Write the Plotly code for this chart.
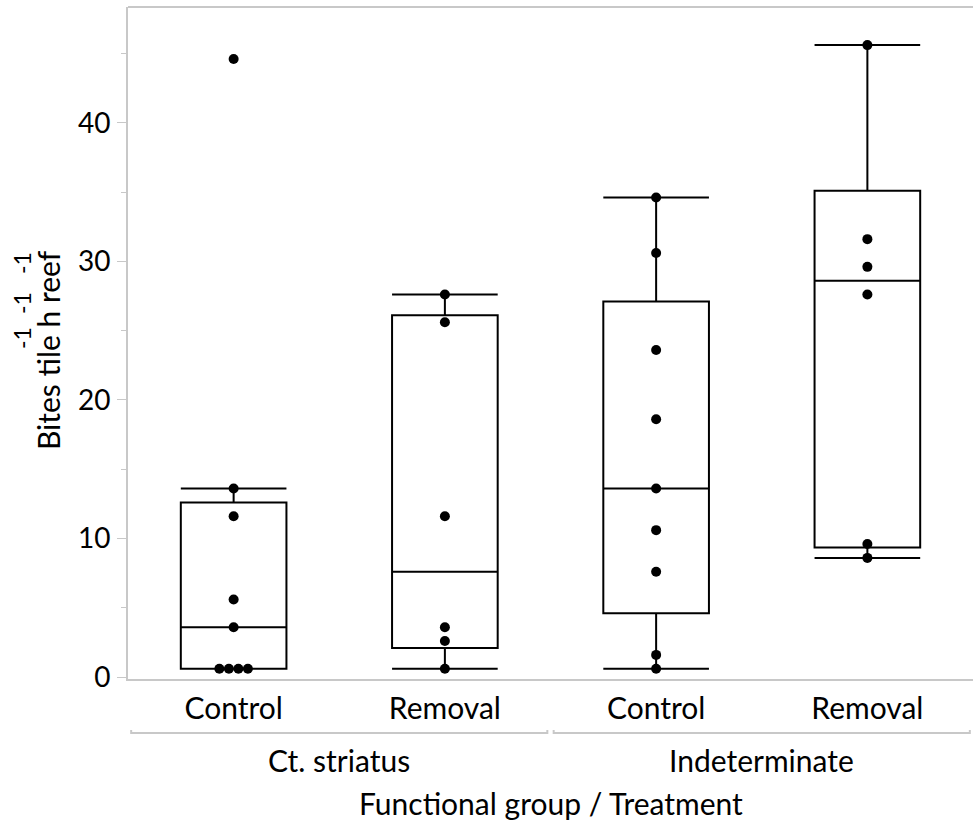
import plotly.graph_objects as go
import numpy as np

groups = ["Ct. striatus", "Indeterminate"]
treatments = ["Control", "Removal", "Control", "Removal"]
values = [
    [0.6, 0.6, 0.6, 0.6, 3.6, 5.6, 11.6, 13.6, 44.6],
    [0.6, 2.6, 3.6, 11.6, 25.6, 27.6],
    [0.6, 1.6, 7.6, 10.6, 13.6, 18.6, 23.6, 30.6, 34.6],
    [8.6, 9.6, 27.6, 29.6, 31.6, 45.6],
]
y_ticks = [0, 10, 20, 30, 40]

FONT = "Lato"
FS = 30
GRAY = "#c8c8c8"


def quant(v, p):
    v = sorted(v)
    n = len(v)
    pos = (n + 1) * p
    lo = int(np.floor(pos))
    frac = pos - lo
    lo = min(max(lo, 1), n)
    hi = min(lo + 1, n)
    return v[lo - 1] + frac * (v[hi - 1] - v[lo - 1])


q1s, meds, q3s, lfs, ufs = [], [], [], [], []
for v in values:
    q1, md, q3 = quant(v, 0.25), quant(v, 0.5), quant(v, 0.75)
    iqr = q3 - q1
    lf = min(x for x in v if x >= q1 - 1.5 * iqr)
    uf = max(x for x in v if x <= q3 + 1.5 * iqr)
    q1s.append(q1); meds.append(md); q3s.append(q3); lfs.append(lf); ufs.append(uf)

fig = go.Figure()
fig.add_trace(go.Box(
    x=list(range(4)), q1=q1s, median=meds, q3=q3s, lowerfence=lfs, upperfence=ufs,
    width=0.5, whiskerwidth=1, boxpoints=False,
    line=dict(color="black", width=2), fillcolor="rgba(255,255,255,0)",
    showlegend=False, hoverinfo="skip",
))

# points, duplicates dodged sideways
px, py = [], []
d = 0.045
for i, v in enumerate(values):
    uniq = sorted(set(v))
    for u in uniq:
        k = v.count(u)
        for j in range(k):
            px.append(i + (j - (k - 1) / 2) * d)
            py.append(u)
fig.add_trace(go.Scatter(x=px, y=py, mode="markers",
                         marker=dict(color="black", size=10), showlegend=False,
                         cliponaxis=False))

fig.update_layout(
    width=973, height=824,
    margin=dict(l=128, r=0, t=7, b=145),
    plot_bgcolor="white", paper_bgcolor="white",
    font=dict(family=FONT, size=FS, color="black"),
    xaxis=dict(range=[-0.5, 3.5], tickvals=list(range(4)), ticktext=treatments,
               showline=True, linecolor=GRAY, linewidth=2, mirror=False,
               showgrid=False, zeroline=False, ticks="", tickfont=dict(size=FS),
               ticklabelstandoff=2),
    yaxis=dict(range=[-0.14, 48.35], tickvals=y_ticks, showline=True, linecolor=GRAY,
               linewidth=2, showgrid=False, zeroline=False, ticks="outside",
               ticklen=9, tickcolor=GRAY, tickwidth=1, tickfont=dict(size=28),
               ticklabelstandoff=1,
               minor=dict(tickvals=[5, 15, 25, 35, 45], ticks="outside", ticklen=5,
                          tickcolor=GRAY, tickwidth=1)),
)

# top border line
fig.add_shape(type="line", xref="paper", yref="paper", x0=0, x1=1, y0=1, y1=1,
              line=dict(color=GRAY, width=2))

# group brackets and labels
for gi, g in enumerate(groups):
    a, b = gi * 2 - 0.485, gi * 2 + 1.485
    fig.add_shape(type="path", xref="x", yref="paper",
                  path=f"M {a},-0.076 L {a},-0.0805 L {b},-0.0805 L {b},-0.076",
                  line=dict(color=GRAY, width=2))
    fig.add_annotation(x=gi * 2 + 0.5, xref="x", y=-0.12, yref="paper", text=g,
                       showarrow=False, font=dict(size=FS), yanchor="middle",
                       xanchor="center")

fig.add_annotation(x=0.5, xref="paper", y=-0.185, yref="paper",
                   text="Functional group / Treatment", showarrow=False,
                   font=dict(size=FS), yanchor="middle", xanchor="center")

# y axis title
fig.add_annotation(x=48, xref="paper", y=350, yref="paper", text="Bites tile h reef",
                   showarrow=False, textangle=-90, font=dict(size=FS),
                   xanchor="center", yanchor="middle")
for ys in [338, 303, 263]:
    fig.add_annotation(x=22, y=ys, text="-1", showarrow=False, textangle=-90,
                       font=dict(size=23), xanchor="center", yanchor="middle")

# convert pixel-specified annotation positions into paper coordinates
plot_w = 973 - 128
plot_h = 824 - 7 - 145
for ann in fig.layout.annotations[-4:]:
    ann.xref = "paper"; ann.yref = "paper"
    ann.x = (ann.x - 128) / plot_w
    ann.y = (824 - 145 - ann.y) / plot_h

fig.write_html("out.html")
